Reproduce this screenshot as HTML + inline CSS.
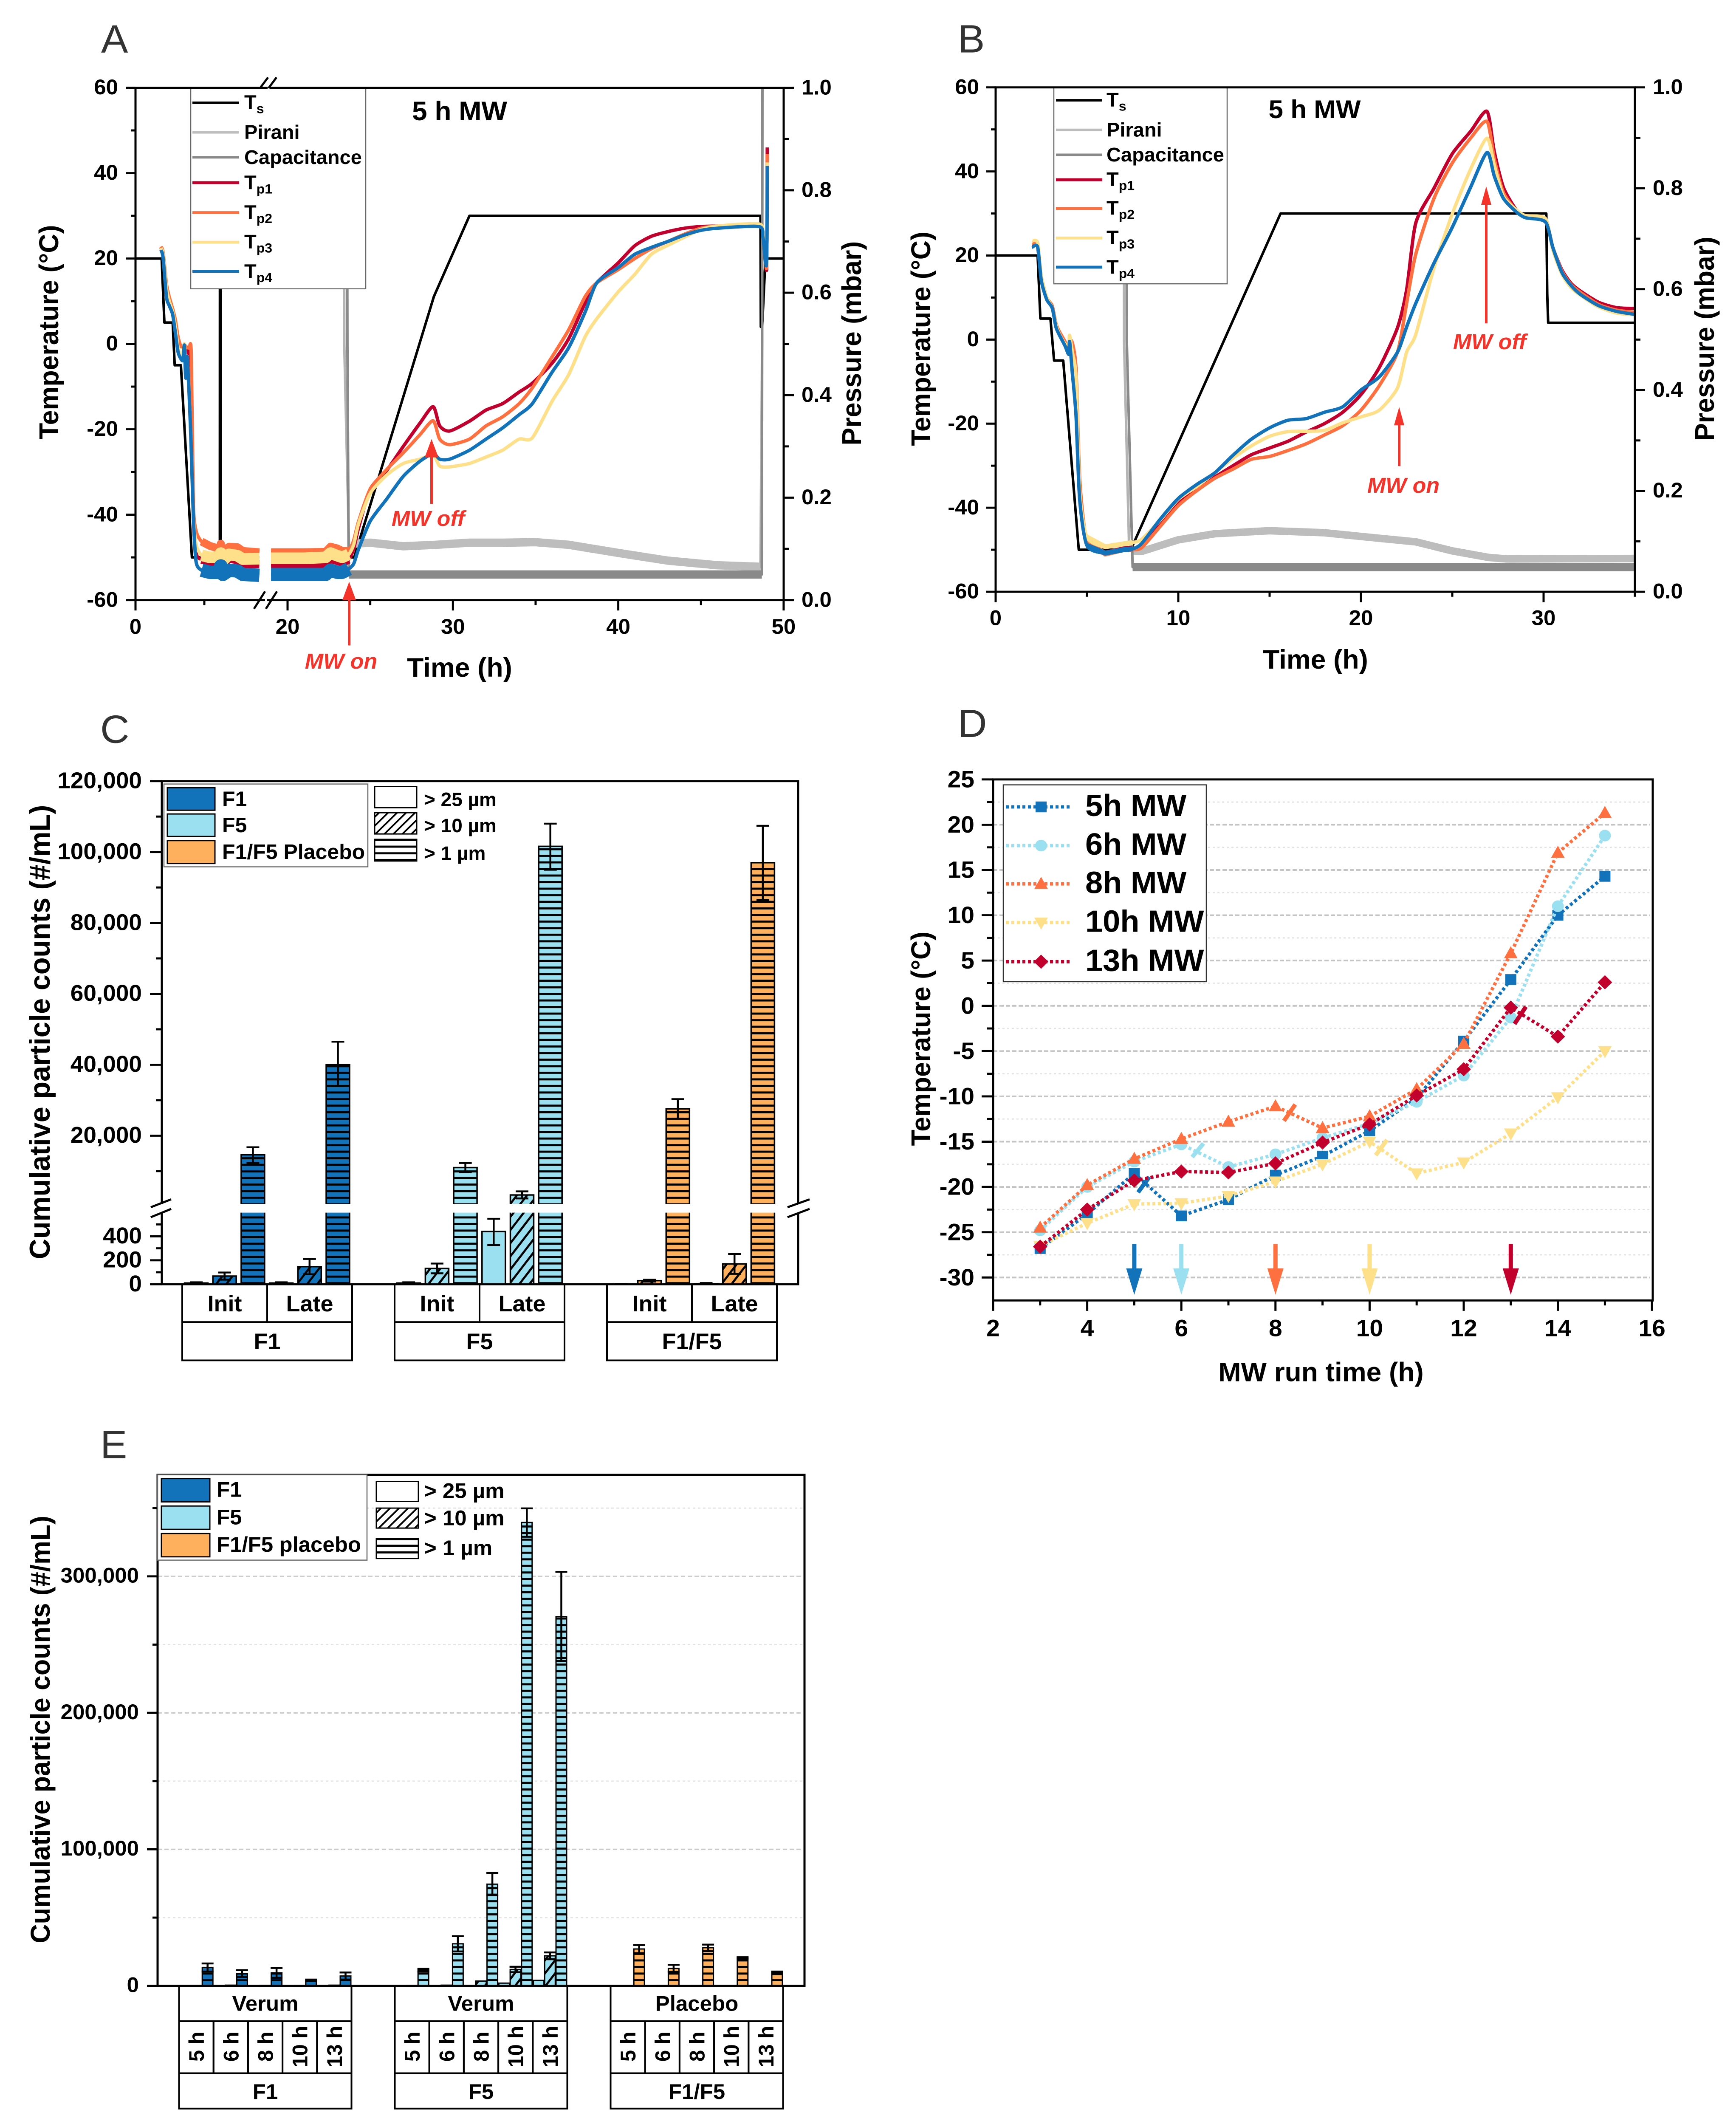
<!DOCTYPE html>
<html lang="en">
<head>
<meta charset="utf-8">
<title>Freeze-drying temperature and particle count charts</title>
<style>
html,body{margin:0;padding:0;background:#fff;width:100%;height:100%;overflow:hidden;}
svg{display:block;width:100vw;height:100vh;font-family:"Liberation Sans",sans-serif;}
.b{font-weight:bold;}
.t{font-weight:bold;font-size:64px;}
.leg{font-weight:bold;font-size:47px;}
.ann{font-weight:bold;font-style:italic;font-size:52px;fill:#f4342a;}
.let{font-size:95px;fill:#333;}
</style>
</head>
<body>
<svg id="fig" xmlns="http://www.w3.org/2000/svg" viewBox="0 0 4087 5104" preserveAspectRatio="none">
<defs>
<clipPath id="clipA"><rect x="319" y="211" width="1526" height="1231"/></clipPath>
<clipPath id="clipB"><rect x="2344" y="210" width="1505" height="1212"/></clipPath>
<pattern id="hF1" patternUnits="userSpaceOnUse" width="16" height="15.8"><rect width="16" height="15.8" fill="#1273ba"/><rect width="16" height="5" fill="#000"/></pattern>
<pattern id="hF5" patternUnits="userSpaceOnUse" width="16" height="15.8"><rect width="16" height="15.8" fill="#9be0f0"/><rect width="16" height="5" fill="#000"/></pattern>
<pattern id="hPl" patternUnits="userSpaceOnUse" width="16" height="15.8"><rect width="16" height="15.8" fill="#ffb05c"/><rect width="16" height="5" fill="#000"/></pattern>
<pattern id="dF1" patternUnits="userSpaceOnUse" width="19" height="19" patternTransform="rotate(37)"><rect width="19" height="19" fill="#1273ba"/><rect width="5" height="19" fill="#000"/></pattern>
<pattern id="dF5" patternUnits="userSpaceOnUse" width="19" height="19" patternTransform="rotate(37)"><rect width="19" height="19" fill="#9be0f0"/><rect width="5" height="19" fill="#000"/></pattern>
<pattern id="dPl" patternUnits="userSpaceOnUse" width="19" height="19" patternTransform="rotate(37)"><rect width="19" height="19" fill="#ffb05c"/><rect width="5" height="19" fill="#000"/></pattern>
<pattern id="dW" patternUnits="userSpaceOnUse" width="15" height="15" patternTransform="rotate(45)"><rect width="15" height="15" fill="#fff"/><rect width="4" height="15" fill="#000"/></pattern>
<pattern id="hW" patternUnits="userSpaceOnUse" width="16" height="16"><rect width="16" height="16" fill="#fff"/><rect width="16" height="5" fill="#000"/></pattern>
</defs>

<!-- PANEL A -->
<g id="panelA">
<text class="let" x="238" y="126">A</text>
<g id="aMarks" clip-path="url(#clipA)"></g>
<rect x="449" y="213" width="412" height="481" fill="#fff" stroke="#666" stroke-width="2.5"/>
<g>
<line x1="453" x2="563" y1="247" y2="247" stroke="#000" stroke-width="6"/>
<text class="leg" x="575" y="262">T<tspan font-size="32" dy="10">s</tspan></text>
<line x1="453" x2="563" y1="318" y2="318" stroke="#bdbdbd" stroke-width="6"/>
<text class="leg" x="575" y="334">Pirani</text>
<line x1="453" x2="563" y1="378" y2="378" stroke="#8a8a8a" stroke-width="6"/>
<text class="leg" x="575" y="394">Capacitance</text>
<line x1="453" x2="563" y1="439" y2="439" stroke="#c1002e" stroke-width="7"/>
<text class="leg" x="575" y="455">T<tspan font-size="32" dy="10">p1</tspan></text>
<line x1="453" x2="563" y1="511" y2="511" stroke="#ff7040" stroke-width="7"/>
<text class="leg" x="575" y="526">T<tspan font-size="32" dy="10">p2</tspan></text>
<line x1="453" x2="563" y1="582" y2="582" stroke="#ffe08a" stroke-width="7"/>
<text class="leg" x="575" y="597">T<tspan font-size="32" dy="10">p3</tspan></text>
<line x1="453" x2="563" y1="652" y2="652" stroke="#1273ba" stroke-width="7"/>
<text class="leg" x="575" y="668">T<tspan font-size="32" dy="10">p4</tspan></text>
</g>
<rect x="319" y="211" width="1526" height="1231" fill="none" stroke="#000" stroke-width="5"/>
<g id="aAxes"></g>
<g stroke="#000" stroke-width="5" fill="none">
<rect x="624" y="1434" width="4" height="14" fill="#fff" stroke="none"/>
<rect x="630" y="204" width="6" height="14" fill="#fff" stroke="none"/>
<line x1="598" y1="1463" x2="624" y2="1421"/><line x1="626" y1="1463" x2="652" y2="1421"/>
<line x1="612" y1="212" x2="631" y2="186"/><line x1="632" y1="212" x2="651" y2="186"/>
</g>
<text class="b" font-size="64" x="1082" y="289" text-anchor="middle">5 h MW</text>
<text class="t" x="1082" y="1626" text-anchor="middle">Time (h)</text>
<text class="t" transform="translate(137 798) rotate(-90)" text-anchor="middle">Temperature (°C)</text>
<text class="t" transform="translate(2027 825) rotate(-90)" text-anchor="middle">Pressure (mbar)</text>
<g><line x1="822" x2="822" y1="1551" y2="1430" stroke="#f4342a" stroke-width="6"/><polygon points="822,1398 806,1442 838,1442" fill="#f4342a"/></g>
<text class="ann" x="803" y="1607" text-anchor="middle">MW on</text>
<g><line x1="1016" x2="1016" y1="1211" y2="1090" stroke="#f4342a" stroke-width="6"/><polygon points="1016,1055 1000,1099 1032,1099" fill="#f4342a"/></g>
<text class="ann" x="1008" y="1264" text-anchor="middle">MW off</text>
</g>

<!-- PANEL B -->
<g id="panelB">
<text class="let" x="2255" y="126">B</text>
<g id="bMarks" clip-path="url(#clipB)"></g>
<rect x="2481" y="211" width="408" height="471" fill="#fff" stroke="#666" stroke-width="2.5"/>
<g>
<line x1="2486" x2="2595" y1="241" y2="241" stroke="#000" stroke-width="6"/>
<text class="leg" x="2605" y="256">T<tspan font-size="32" dy="10">s</tspan></text>
<line x1="2486" x2="2595" y1="312" y2="312" stroke="#bdbdbd" stroke-width="6"/>
<text class="leg" x="2605" y="328">Pirani</text>
<line x1="2486" x2="2595" y1="372" y2="372" stroke="#8a8a8a" stroke-width="6"/>
<text class="leg" x="2605" y="388">Capacitance</text>
<line x1="2486" x2="2595" y1="432" y2="432" stroke="#c1002e" stroke-width="7"/>
<text class="leg" x="2605" y="447">T<tspan font-size="32" dy="10">p1</tspan></text>
<line x1="2486" x2="2595" y1="501" y2="501" stroke="#ff7040" stroke-width="7"/>
<text class="leg" x="2605" y="516">T<tspan font-size="32" dy="10">p2</tspan></text>
<line x1="2486" x2="2595" y1="572" y2="572" stroke="#ffe08a" stroke-width="7"/>
<text class="leg" x="2605" y="587">T<tspan font-size="32" dy="10">p3</tspan></text>
<line x1="2486" x2="2595" y1="642" y2="642" stroke="#1273ba" stroke-width="7"/>
<text class="leg" x="2605" y="658">T<tspan font-size="32" dy="10">p4</tspan></text>
</g>
<rect x="2344" y="210" width="1505" height="1212" fill="none" stroke="#000" stroke-width="5"/>
<g id="bAxes"></g>
<text class="b" font-size="62" x="3095" y="284" text-anchor="middle">5 h MW</text>
<text class="t" x="3097" y="1607" text-anchor="middle">Time (h)</text>
<text class="t" transform="translate(2190 814) rotate(-90)" text-anchor="middle">Temperature (°C)</text>
<text class="t" transform="translate(4035 814) rotate(-90)" text-anchor="middle">Pressure (mbar)</text>
<g><line x1="3294" x2="3294" y1="1120" y2="1010" stroke="#f4342a" stroke-width="6"/><polygon points="3294,978 3282,1022 3306,1022" fill="#f4342a"/></g>
<text class="ann" x="3304" y="1184" text-anchor="middle">MW on</text>
<g><line x1="3499" x2="3499" y1="777" y2="480" stroke="#f4342a" stroke-width="6"/><polygon points="3499,448 3487,492 3511,492" fill="#f4342a"/></g>
<text class="ann" x="3507" y="839" text-anchor="middle">MW off</text>
</g>

<!-- PANEL C -->
<g id="panelC">
<text class="let" x="236" y="1785">C</text>
<g id="cMarks"></g>
<rect x="381" y="1877" width="1498" height="1209" fill="none" stroke="#000" stroke-width="5"/>
<rect x="340" y="2893" width="1580" height="21" fill="#fff"/>
<g stroke="#000" stroke-width="5">
<line x1="355" y1="2901" x2="403" y2="2882"/><line x1="355" y1="2925" x2="403" y2="2905"/>
<line x1="1854" y1="2901" x2="1906" y2="2882"/><line x1="1854" y1="2925" x2="1906" y2="2905"/>
</g>
<g id="cAxes"></g>
<text class="b" font-size="68" transform="translate(117 2480) rotate(-90)" text-anchor="middle">Cumulative particle counts (#/mL)</text>
<g>
<rect x="386" y="1884" width="480" height="199" fill="#fff" stroke="#666" stroke-width="2.5"/>
<rect x="394" y="1893" width="112" height="54" fill="#1273ba" stroke="#000" stroke-width="3"/>
<rect x="394" y="1956" width="112" height="54" fill="#9be0f0" stroke="#000" stroke-width="3"/>
<rect x="394" y="2020" width="112" height="55" fill="#ffb05c" stroke="#000" stroke-width="3"/>
<text class="b" font-size="50" x="523" y="1937">F1</text>
<text class="b" font-size="50" x="523" y="2000">F5</text>
<text class="b" font-size="50" x="523" y="2064">F1/F5 Placebo</text>
<rect x="882" y="1890" width="99" height="51" fill="#fff" stroke="#000" stroke-width="3"/>
<rect x="882" y="1953" width="99" height="51" fill="url(#dW)" stroke="#000" stroke-width="3"/>
<rect x="882" y="2017" width="99" height="52" fill="url(#hW)" stroke="#000" stroke-width="3"/>
<text class="b" font-size="46" x="998" y="1937">&gt; 25 µm</text>
<text class="b" font-size="46" x="998" y="2000">&gt; 10 µm</text>
<text class="b" font-size="46" x="998" y="2066">&gt; 1 µm</text>
</g>
</g>

<!-- PANEL D -->
<g id="panelD">
<text class="let" x="2255" y="1771">D</text>
<g id="dGrid"></g>
<g id="dMarks"></g>
<rect x="2338" y="1873" width="1553" height="1252" fill="none" stroke="#000" stroke-width="5"/>
<g id="dAxes"></g>
<rect x="2362" y="1886" width="478" height="473" fill="#fff" stroke="#333" stroke-width="2.5"/>
<g id="dLegend"></g>
<text class="b" font-size="64" x="3110" y="3319" text-anchor="middle">MW run time (h)</text>
<text class="b" font-size="64" transform="translate(2190 2496) rotate(-90)" text-anchor="middle">Temperature (°C)</text>
</g>

<!-- PANEL E -->
<g id="panelE">
<text class="let" x="236" y="3504">E</text>
<g id="eGrid"></g>
<g id="eMarks"></g>
<rect x="371" y="3544" width="1523" height="1228" fill="none" stroke="#000" stroke-width="5"/>
<g id="eAxes"></g>
<text class="b" font-size="64" transform="translate(117 4156) rotate(-90)" text-anchor="middle">Cumulative particle counts (#/mL)</text>
<g>
<rect x="371" y="3544" width="493" height="205" fill="#fff" stroke="#666" stroke-width="2.5"/>
<rect x="380" y="3553" width="114" height="56" fill="#1273ba" stroke="#000" stroke-width="3"/>
<rect x="380" y="3619" width="114" height="56" fill="#9be0f0" stroke="#000" stroke-width="3"/>
<rect x="380" y="3685" width="114" height="56" fill="#ffb05c" stroke="#000" stroke-width="3"/>
<text class="b" font-size="51" x="510" y="3597">F1</text>
<text class="b" font-size="51" x="510" y="3663">F5</text>
<text class="b" font-size="51" x="510" y="3729">F1/F5 placebo</text>
<rect x="886" y="3560" width="99" height="48" fill="#fff" stroke="#000" stroke-width="3"/>
<rect x="886" y="3624" width="99" height="48" fill="url(#dW)" stroke="#000" stroke-width="3"/>
<rect x="886" y="3697" width="99" height="48" fill="url(#hW)" stroke="#000" stroke-width="3"/>
<text class="b" font-size="51" x="998" y="3600">&gt; 25 µm</text>
<text class="b" font-size="51" x="998" y="3665">&gt; 10 µm</text>
<text class="b" font-size="51" x="998" y="3737">&gt; 1 µm</text>
</g>
</g>
</svg>

<script>
// ---------- Panel A data ----------
const aTime=[1.85,2.0,2.25,2.45,2.7,2.9,3.1,3.3,3.45,3.55,3.65,3.75,3.9,4.05,4.2,4.4,4.8,5.4,6.1,6.2,6.35,6.8,7.4,7.8,9.0,null,19.0,21,22.3,22.6,23.0,23.3,23.7,24.0,24.3,25,26,27,28,28.8,29.2,29.8,31,32,33,34,34.8,36,37,38,38.7,40,41,42,43,44,45,46,48.5,48.75,48.9,48.97,49.0,49.01];
const aTp1=[22.5,20.5,11.5,9.5,7,3,-1.5,-3,-3,-1,-6,-1.5,-2,-10,-40,-49,-50.5,-51,-51,-49.5,-51.5,-50.3,-50.6,-51.5,-51.6,null,-51.6,-51.6,-51.5,-50.3,-50.8,-51.2,-50.5,-48,-43,-34,-29.6,-24,-18.6,-14.7,-19.2,-20.4,-18.1,-15.5,-14,-11.3,-9.2,-4.5,1.2,9.6,14.3,19,23,25.2,26.3,27.1,27.5,27.6,27.8,25,20,17.5,30,46];
const aTp2=[22.8,21.5,14,11,8.2,5.5,1.5,-0.6,-0.5,-0.4,-0.5,-0.9,-1,-2.2,-37,-43.8,-46.3,-47.3,-48,-46.8,-48.5,-47.5,-47.6,-48.5,-48.8,null,-48.8,-48.8,-48.7,-47.5,-47.9,-48.5,-48.5,-46,-41.5,-34,-29.4,-25.5,-21.3,-18,-22.3,-23.6,-22.3,-19.2,-17.1,-14,-10.3,-3,3.3,11.1,14.3,17.4,20,22.3,24,25.7,27.1,27.6,27.8,25,20,18,30,44.5];
const aTp3=[22.5,21,13,10,7.5,4,-1,-3,-2,0,-5,-3,-12,-25,-40,-47,-49.5,-50,-50,-49,-50.7,-49.3,-49.6,-50.4,-50.3,null,-50.2,-50.2,-50,-49,-49.6,-50,-49.3,-47,-42,-35,-30.7,-28,-27,-26,-28.6,-28.8,-28,-26.5,-24.9,-22.3,-22,-13.4,-7.2,1.7,5.9,12.2,16.3,21,23.1,25,26.8,27.6,28.1,25.5,20,19,30,42.5];
const aTp4=[22,20.3,11,9,6.9,2.5,-2,-3.5,-3.8,-0.3,-8,-3,-12,-24.4,-40,-51,-53,-53.5,-53.5,-52,-54,-53,-53.2,-54,-54.2,null,-54,-54,-54,-53,-53.5,-53.5,-52.7,-51.5,-48,-41.5,-36.3,-31,-27.5,-25.7,-27,-27,-24.9,-22.3,-19.7,-16.6,-14,-6.6,-0.9,7.5,14.3,17.9,21,22.6,24,25.5,26.6,27.1,27.5,25,19.2,19,30,41.7];
const aTsTime=[0,1.9,2.1,2.7,2.85,3.3,4.1,6.13,6.14,6.17,6.18,9.0,null,19,24.03,25.35,28.85,31,48.6,48.62,48.7,48.9,50];
const aTsTemp=[20,20,5,5,-5,-5,-50,-50,70,70,-50,-50,null,-50,-50,-33.3,11.1,30,30,4,4,20,20];
const aPiraniTime=[23.4,23.43,23.72,24,25,27,29,31,33,35,37,40,43,46,48.6,48.7,48.72];
const aPiraniValue=[1.2,0.5,0.1,0.11,0.112,0.105,0.108,0.112,0.112,0.113,0.108,0.092,0.077,0.068,0.065,0.5,1.2];
const aCapTime=[23.58,23.62,23.7,48.68,48.7,48.72];
const aCapValue=[1.2,0.5,0.05,0.05,0.5,1.2];
const aXMajor=[0,20,30,40,50];
const aXMinor=[5,25,35,45];
// ---------- Panel B data ----------
const bTime=[2.0,2.3,2.5,2.8,3.1,3.3,3.5,3.8,4.0,4.05,4.2,4.4,4.6,5,6,7,7.5,8,9,10,11,12,13,14,15,16,17,18,19,20,21,22,22.5,23,24,25,26,26.9,27.3,27.8,28.5,29,30.1,30.5,31,31.5,32,33,34,35];
const bTp1=[22.5,22,14.5,9.7,7.6,3.3,1.4,-1,-3,-0.4,-1,-10,-35,-48.5,-50.8,-49.8,-49.7,-49,-44,-39,-35.2,-32.7,-30,-27.4,-25.8,-24.2,-22,-20,-17.3,-13.1,-6.7,2.8,11.8,27.7,36,44.2,49.5,54.3,44.7,36.2,30.9,29.3,28.3,22,16.6,13.4,11.6,8.9,7.6,7.4];
const bTp2=[22.8,22.5,15,10,8,3.8,1.8,-0.5,-2.5,-0.3,-0.8,-7,-33,-48,-51,-50,-50,-49.5,-44.5,-39.5,-36,-33,-30.8,-28.5,-27.8,-26.4,-24.8,-22.7,-20.5,-16.8,-11,-3,8.6,20.3,33.6,42,47.9,51.9,43,35,30.7,29.1,28,22,16.3,13.1,11.3,8.4,7,6.5];
const bTp3=[23.5,23,15,10,7.5,3.5,1.2,-1,-1,1,-3,-9,-36,-47,-49.3,-48.6,-48.3,-47.5,-43,-38,-35,-31.7,-28.2,-25.3,-23,-21.9,-21.8,-21.6,-19.8,-18.4,-16.8,-11.5,-3,1.2,17.1,29.9,40.5,47.9,41.5,34.1,30.9,29.5,28.8,21.5,15.6,12.4,10.6,7.8,6.3,5.9];
const bTp4=[22,22,14,9.5,7.5,3,1,-1.5,-3.5,-0.5,-8,-18,-38,-49,-50.8,-50,-49.8,-48.5,-42.8,-37.8,-34.5,-31.7,-27.5,-23.7,-21,-19.2,-18.8,-17.3,-16,-12,-8.9,-3,3,8.6,18.2,26.7,36.2,44.5,38.9,33.6,30.4,29,28,22,16,12.9,10.8,8.1,6.7,6];
const bTsTime=[0,2.3,2.45,3.0,3.2,3.7,4.55,7.4,15.6,30.15,30.2,30.25,35];
const bTsTemp=[20,20,5,5,-5,-5,-50,-50,30,30,10.8,4,4];
const bPiraniTime=[7.0,7.03,7.3,7.5,8,10,12,15,18,21,23,25,27,28,35];
const bPiraniValue=[1.2,0.5,0.1,0.08,0.08,0.103,0.115,0.121,0.117,0.106,0.099,0.081,0.068,0.065,0.066];
const bCapTime=[7.15,7.18,7.5,35];
const bCapValue=[1.2,0.5,0.049,0.049];
const bXMajor=[0,10,20,30];
const bXMinor=[5,15,25,35];
// ---------- shared for A/B ----------
const tempMajor=[-60,-40,-20,0,20,40,60];
const tempMinor=[-50,-30,-10,10,30,50];
const pressMajor=[0,0.2,0.4,0.6,0.8,1.0];
const pressMinor=[0.1,0.3,0.5,0.7,0.9];
const tpColors=['#c1002e','#ff7040','#ffe08a','#1273ba'];
// ---------- Panel C data ----------
const cGroups=['F1','F5','F1/F5'];
const cStages=['Init','Late'];
const c25=[10,10,10,441,2,5];
const c25Hi=[16,16,16,547,3,10];
const c25Lo=[4,4,4,328,1,1];
const c10=[68,147,132,3270,30,170];
const c10Hi=[98,211,173,4280,38,253];
const c10Lo=[38,83,91,2300,22,87];
const c1=[14600,40000,11000,101600,27550,97000];
const c1Hi=[16730,46500,12300,108000,30300,107400];
const c1Lo=[12330,34000,9700,95000,24800,86500];
const cMajor=[0,200,400,20000,40000,60000,80000,100000,120000];
const cMajorLabels=['0','200','400','20,000','40,000','60,000','80,000','100,000','120,000'];
const cMinor=[100,300,500,10000,30000,50000,70000,90000,110000];
// ---------- Panel D data ----------
const dRunTime=[3,4,5,6,7,8,9,10,11,12,13,14,15];
const d5h=[-26.8,-23,-18.5,-23.2,-21.4,-18.7,-16.6,-13.8,-10.2,-3.9,2.9,10,14.3];
const d6h=[-24.8,-20,-17.2,-15.3,-17.8,-16.4,-14.6,-13,-10.6,-7.7,-1.3,11,18.8];
const d8h=[-24.5,-19.8,-16.9,-14.7,-12.8,-11.1,-13.5,-12.2,-9.2,-4.2,5.8,16.9,21.3];
const d10h=[-26.5,-24,-21.9,-21.8,-21,-19.4,-17.5,-15,-18.5,-17.3,-14.1,-10.1,-5];
const d13h=[-26.6,-22.5,-19.3,-18.3,-18.4,-17.4,-15.1,-13.1,-9.9,-7,-0.2,-3.4,2.6];
const dLabels=['5h MW','6h MW','8h MW','10h MW','13h MW'];
const dMwOff=[5,6,8,10,13];
const dBreakX=[5.2,6.35,8.3,10.25,13.2];
const dBreakTop=[-18.9,-15.2,-10.9,-14.8,-0.1];
const dBreakBottom=[-20.6,-16.7,-12.7,-16.5,-2];
const dXTicks=[2,4,6,8,10,12,14,16];
const dXMinor=[3,5,7,9,11,13,15];
const dYTicks=[-30,-25,-20,-15,-10,-5,0,5,10,15,20,25];
const dYMinor=[-27.5,-22.5,-17.5,-12.5,-7.5,-2.5,2.5,7.5,12.5,17.5,22.5];
const dColors=['#1273ba','#9be0f0','#ff7040','#ffe08a','#c1002e'];
// ---------- Panel E data ----------
const eGroups=['F1','F5','F1/F5'];
const eBatches=['Verum','Verum','Placebo'];
const eHours=['5 h','6 h','8 h','10 h','13 h'];
const e25=[100,200,100,100,300, 100,100,300,2000,4000, 50,100,100,50,100];
const e10=[300,500,400,300,500, 300,500,3500,12000,22000, 200,300,300,200,300];
const e10Hi=[null,null,null,null,null, null,null,null,14000,24500, null,null,null,null,null];
const e1=[13500,9000,9500,4000,7200, 11500,30800,74500,339500,270500, 27000,12800,28000,20400,9500];
const e1Hi=[16400,11500,13100,4600,9800, 12500,36400,82700,349800,303300, 29900,15400,30200,21000,10500];
const e1Lo=[10500,6500,5900,3400,4600, 10500,25200,66300,329000,238000, 24000,10200,25500,19800,8500];
const eMajor=[0,100000,200000,300000];
const eMajorLabels=['0','100,000','200,000','300,000'];
const eMinor=[50000,150000,250000,350000];

// ---------- helpers ----------
const NS='http://www.w3.org/2000/svg';
function make(tag,attrs,parent){
  const n=document.createElementNS(NS,tag);
  for(const k in attrs){n.setAttribute(k,attrs[k]);}
  parent.appendChild(n);
  return n;
}
function g(id){return document.getElementById(id);}
function pathOf(xs,ys,fx,fy){
  let d='',pen=false;
  for(let i=0;i<xs.length;i++){
    if(xs[i]===null||ys[i]===null){pen=false;continue;}
    d+=(pen?'L':'M')+fx(xs[i]).toFixed(1)+' '+fy(ys[i]).toFixed(1);
    pen=true;
  }
  return d;
}
function smoothPath(xs,ys,fx,fy){
  let d='';
  let run=[];
  function flush(){
    if(run.length<2){run=[];return;}
    d+='M'+run[0][0].toFixed(1)+' '+run[0][1].toFixed(1);
    for(let i=0;i<run.length-1;i++){
      const p0=run[Math.max(0,i-1)],p1=run[i],p2=run[i+1],p3=run[Math.min(run.length-1,i+2)];
      const f=0.12;
      d+='C'+(p1[0]+(p2[0]-p0[0])*f).toFixed(1)+' '+(p1[1]+(p2[1]-p0[1])*f).toFixed(1)+' '+(p2[0]-(p3[0]-p1[0])*f).toFixed(1)+' '+(p2[1]-(p3[1]-p1[1])*f).toFixed(1)+' '+p2[0].toFixed(1)+' '+p2[1].toFixed(1);
    }
    run=[];
  }
  for(let i=0;i<xs.length;i++){
    if(xs[i]===null||ys[i]===null){flush();continue;}
    run.push([fx(xs[i]),fy(ys[i])]);
  }
  flush();
  return d;
}
function within(xs,lo,hi){return xs.map(function(v){return (v===null||v<lo||v>hi)?null:v;});}
function drawLine(parent,name,xs,ys,fx,fy,color,width){
  const p=make('path',{d:pathOf(xs,ys,fx,fy),fill:'none',stroke:color,'stroke-width':width,'stroke-linejoin':'round'},parent);
  
  
  return p;
}
function tick(parent,x1,y1,x2,y2,w){
  const l=make('line',{x1:x1,y1:y1,x2:x2,y2:y2,stroke:'#000','stroke-width':w},parent);
  
  
}
function tickText(parent,x,y,str,anchor,size){
  const t=make('text',{x:x,y:y,'text-anchor':anchor,'font-size':size,'font-weight':'bold'},parent);
  t.textContent=str;
  
  
}
function errorBar(parent,x,yHi,yLo,capW,w){
  const e=make('path',{d:'M'+x+' '+yHi+'V'+yLo+'M'+(x-capW/2)+' '+yHi+'H'+(x+capW/2)+'M'+(x-capW/2)+' '+yLo+'H'+(x+capW/2),fill:'none',stroke:'#000','stroke-width':w},parent);
  
  
}
function catBox(parent,x,y,w,h,name){
  const r=make('rect',{x:x,y:y,width:w,height:h,fill:'none',stroke:'#000','stroke-width':4},parent);
  
  
}
function catText(parent,x,y,str,size,name){
  const t=make('text',{x:x,y:y,'text-anchor':'middle','font-size':size,'font-weight':'bold'},parent);
  t.textContent=str;
  
  
  return t;
}

// ---------- axis functions ----------
function xA(t){return t<=9.4?319+32.4*t:677+38.93*(t-20);}
function yA(v){return 1442-(v+60)*10.26;}
function yAp(p){return 1442-p*1231;}
function xB(t){return 2344+43*t;}
function yB(v){return 1422-(v+60)*10.1;}
function yBp(p){return 1422-p*1212;}
function yC(v){return v<=600?3086-v*57.5/200:1877+(120000-v)*170.4/20000;}
function xC(i){return 462+66.7*i+100*Math.floor(i/6);}
function xD(h){return 2338+(h-2)*110.8;}
function yD(v){return 1873+(25-v)*21.76;}
function yE(v){return 4772-v*328/100000;}
function xE(i,bar){const grp=Math.floor(i/5);const c=i%5;return 462+grp*508+c*81.2+(bar-1)*26.7;}

// ---------- Panel A ----------
(function(){
  const m=g('aMarks');
  drawLine(m,'ts-line',aTsTime,aTsTemp,xA,yA,'#000',6);
  drawLine(m,'pirani-line',aPiraniTime,aPiraniValue,xA,yAp,'#b4b4b4',6);
  drawLine(m,'pirani-noise-band',within(aPiraniTime,23.9,48.6),aPiraniValue,xA,yAp,'#bdbdbd',20);
  drawLine(m,'capacitance-line',aCapTime,aCapValue,xA,yAp,'#8a8a8a',6);
  drawLine(m,'capacitance-noise-band',within(aCapTime,23.7,48.68),aCapValue,xA,yAp,'#8a8a8a',20);
  const tps=[aTp1,aTp2,aTp3,aTp4];
  const bands=[20,19,28,32];
  tps.forEach(function(s,i){
    const line=make('path',{d:smoothPath(aTime,s,xA,yA),fill:'none',stroke:tpColors[i],'stroke-width':8,'stroke-linejoin':'round'},m);
    
    
    const band=make('path',{d:pathOf(within(aTime,4.8,23.7),s,xA,yA),fill:'none',stroke:tpColors[i],'stroke-width':bands[i],'stroke-linejoin':'round'},m);
    
    
  });
  const ax=g('aAxes');
  aXMajor.forEach(function(t){tick(ax,xA(t),1442,xA(t),1467,5);tickText(ax,xA(t),1523,String(t),'middle',51);});
  aXMinor.forEach(function(t){tick(ax,xA(t),1442,xA(t),1454,5);});
  tempMajor.forEach(function(v){tick(ax,297,yA(v),319,yA(v),5);tickText(ax,278,yA(v)+16,String(v),'end',51);});
  tempMinor.forEach(function(v){tick(ax,308,yA(v),319,yA(v),5);});
  pressMajor.forEach(function(p){tick(ax,1845,yAp(p),1869,yAp(p),5);tickText(ax,1887,yAp(p)+16,p.toFixed(1),'start',51);});
  pressMinor.forEach(function(p){tick(ax,1845,yAp(p),1858,yAp(p),5);});
})();

// ---------- Panel B ----------
(function(){
  const m=g('bMarks');
  drawLine(m,'ts-line',bTsTime,bTsTemp,xB,yB,'#000',6);
  drawLine(m,'pirani-line',bPiraniTime,bPiraniValue,xB,yBp,'#b4b4b4',6);
  drawLine(m,'pirani-noise-band',within(bPiraniTime,7.5,35),bPiraniValue,xB,yBp,'#bdbdbd',18);
  drawLine(m,'capacitance-line',bCapTime,bCapValue,xB,yBp,'#8a8a8a',6);
  drawLine(m,'capacitance-noise-band',within(bCapTime,7.5,35),bCapValue,xB,yBp,'#8a8a8a',20);
  const tps=[bTp1,bTp2,bTp3,bTp4];
  tps.forEach(function(s,i){
    const line=make('path',{d:smoothPath(bTime,s,xB,yB),fill:'none',stroke:tpColors[i],'stroke-width':8,'stroke-linejoin':'round'},m);
    
    
    const band=make('path',{d:pathOf(within(bTime,5,7.5),s,xB,yB),fill:'none',stroke:tpColors[i],'stroke-width':12,'stroke-linejoin':'round'},m);
    
    
  });
  const ax=g('bAxes');
  bXMajor.forEach(function(t){tick(ax,xB(t),1422,xB(t),1447,5);tickText(ax,xB(t),1502,String(t),'middle',51);});
  bXMinor.forEach(function(t){tick(ax,xB(t),1422,xB(t),1434,5);});
  tempMajor.forEach(function(v){tick(ax,2322,yB(v),2344,yB(v),5);tickText(ax,2305,yB(v)+16,String(v),'end',51);});
  tempMinor.forEach(function(v){tick(ax,2333,yB(v),2344,yB(v),5);});
  pressMajor.forEach(function(p){tick(ax,3849,yBp(p),3873,yBp(p),5);tickText(ax,3891,yBp(p)+16,p.toFixed(1),'start',51);});
  pressMinor.forEach(function(p){tick(ax,3849,yBp(p),3862,yBp(p),5);});
})();

// ---------- Panel C ----------
(function(){
  const m=g('cMarks');
  const solid=['#1273ba','#9be0f0','#ffb05c'];
  const diag=['url(#dF1)','url(#dF5)','url(#dPl)'];
  const horiz=['url(#hF1)','url(#hF5)','url(#hPl)'];
  const W=55;
  for(let k=0;k<6;k++){
    const grp=Math.floor(k/2);
    const vals=[c25[k],c10[k],c1[k]];
    const his=[c25Hi[k],c10Hi[k],c1Hi[k]];
    const los=[c25Lo[k],c10Lo[k],c1Lo[k]];
    const fills=[solid[grp],diag[grp],horiz[grp]];
    vals.forEach(function(v,b){
      const x=xC(k*3+b);
      const r=make('rect',{x:x-W/2,y:yC(v),width:W,height:3086-yC(v),fill:fills[b],stroke:'#000','stroke-width':3.5},m);
      
      
      errorBar(m,x,yC(his[b]),yC(los[b]),30,4.5);
    });
  }
  const ax=g('cAxes');
  cMajor.forEach(function(v,i){tick(ax,353,yC(v),381,yC(v),5);tickText(ax,334,yC(v)+17,cMajorLabels[i],'end',55);});
  cMinor.forEach(function(v){tick(ax,367,yC(v),381,yC(v),5);});
  cGroups.forEach(function(name,gi){
    const x0=429+500*gi;
    catBox(ax,x0,3086,200,91,'stage-box');
    catBox(ax,x0+200,3086,200,91,'stage-box');
    catBox(ax,x0,3177,400,92,'group-box');
    cStages.forEach(function(s,si){catText(ax,x0+100+200*si,3151,s,54,'stage-label');});
    catText(ax,x0+200,3242,name,54,'group-label');
  });
})();

// ---------- Panel D ----------
(function(){
  const gr=g('dGrid');
  dYTicks.forEach(function(v){
    const l=make('line',{x1:2338,x2:3884,y1:yD(v),y2:yD(v),stroke:'#c4c4c4','stroke-width':4,'stroke-dasharray':'10 5'},gr);
    
    
  });
  dYMinor.forEach(function(v){
    const l=make('line',{x1:2338,x2:3884,y1:yD(v),y2:yD(v),stroke:'#e2e2e2','stroke-width':3,'stroke-dasharray':'5 6'},gr);
    
    
  });
  function marker(parent,kind,x,y,color){
    let n;
    if(kind===0){n=make('rect',{x:x-13,y:y-13,width:26,height:26,fill:color},parent);}
    else if(kind===1){n=make('circle',{cx:x,cy:y,r:14,fill:color},parent);}
    else if(kind===2){n=make('polygon',{points:[x,y-17,x+16,y+12,x-16,y+12].join(' '),fill:color},parent);}
    else if(kind===3){n=make('polygon',{points:[x,y+17,x+16,y-12,x-16,y-12].join(' '),fill:color},parent);}
    else{n=make('polygon',{points:[x,y-17,x+17,y,x,y+17,x-17,y].join(' '),fill:color},parent);}
    
    
  }
  const m=g('dMarks');
  const series=[d5h,d6h,d8h,d10h,d13h];
  series.forEach(function(s,i){
    const p=make('path',{d:pathOf(dRunTime,s,xD,yD),fill:'none',stroke:dColors[i],'stroke-width':8,'stroke-dasharray':'7 6'},m);
    
    
    dRunTime.forEach(function(t,j){marker(m,i,xD(t),yD(s[j]),dColors[i]);});
    const sl=make('line',{x1:xD(dBreakX[i]+0.12),y1:yD(dBreakTop[i]),x2:xD(dBreakX[i]-0.12),y2:yD(dBreakBottom[i]),stroke:dColors[i],'stroke-width':10},m);
    
    
    const x=xD(dMwOff[i]);
    const a=make('path',{d:'M'+(x-5)+' '+yD(-26.3)+'H'+(x+5)+'V'+yD(-29)+'H'+(x+19)+'L'+x+' '+yD(-31.9)+'L'+(x-19)+' '+yD(-29)+'H'+(x-5)+'Z',fill:dColors[i]},m);
    
    
  });
  const ax=g('dAxes');
  dXTicks.forEach(function(t){tick(ax,xD(t),3125,xD(t),3150,5);tickText(ax,xD(t),3211,String(t),'middle',57);});
  dXMinor.forEach(function(t){tick(ax,xD(t),3125,xD(t),3137,5);});
  dYTicks.forEach(function(v){tick(ax,2311,yD(v),2338,yD(v),5);tickText(ax,2294,yD(v)+19,String(v),'end',57);});
  dYMinor.forEach(function(v){tick(ax,2324,yD(v),2338,yD(v),5);});
  const lg=g('dLegend');
  const baseY=[1961,2054,2146,2239,2333];
  dLabels.forEach(function(lab,i){
    const yy=baseY[i]-22;
    const l=make('line',{x1:2368,x2:2524,y1:yy,y2:yy,stroke:dColors[i],'stroke-width':8,'stroke-dasharray':'7 6'},lg);
    
    
    marker(lg,i,2451,yy,dColors[i]);
    const t=make('text',{x:2555,y:baseY[i],'font-size':74,'font-weight':'bold'},lg);
    t.textContent=lab;
    
    
  });
})();

// ---------- Panel E ----------
(function(){
  const gr=g('eGrid');
  eMajor.slice(1).forEach(function(v){
    const l=make('line',{x1:371,x2:1890,y1:yE(v),y2:yE(v),stroke:'#ccc','stroke-width':3.5,'stroke-dasharray':'10 6'},gr);
    
    
  });
  eMinor.forEach(function(v){
    const l=make('line',{x1:371,x2:1890,y1:yE(v),y2:yE(v),stroke:'#e4e4e4','stroke-width':3,'stroke-dasharray':'6 6'},gr);
    
    
  });
  const m=g('eMarks');
  const solid=['#1273ba','#9be0f0','#ffb05c'];
  const diag=['url(#dF1)','url(#dF5)','url(#dPl)'];
  const horiz=['url(#hF1)','url(#hF5)','url(#hPl)'];
  const W=25;
  e1.forEach(function(v,i){
    const grp=Math.floor(i/5);
    const vals=[e25[i],e10[i],v];
    const fills=[solid[grp],diag[grp],horiz[grp]];
    vals.forEach(function(val,b){
      const x=xE(i,b);
      const r=make('rect',{x:x-W/2,y:yE(val),width:W,height:4772-yE(val),fill:fills[b],stroke:'#000','stroke-width':3},m);
      
      
    });
    errorBar(m,xE(i,2),yE(e1Hi[i]),yE(e1Lo[i]),28,4.5);
    if(e10Hi[i]!==null){errorBar(m,xE(i,1),yE(e10Hi[i]),yE(2*e10[i]-e10Hi[i]),28,4.5);}
  });
  const ax=g('eAxes');
  eMajor.forEach(function(v,i){tick(ax,346,yE(v),371,yE(v),5);tickText(ax,327,yE(v)+15,eMajorLabels[i],'end',51);});
  eMinor.forEach(function(v){tick(ax,359,yE(v),371,yE(v),5);});
  eGroups.forEach(function(name,gi){
    const x0=421.5+508*gi;
    const w=81.2;
    catBox(ax,x0,4772,w*5,85,'batch-box');
    catBox(ax,x0,4982,w*5,85,'group-box');
    catText(ax,x0+w*2.5,4832,eBatches[gi],51,'batch-label');
    catText(ax,x0+w*2.5,5044,name,51,'group-label');
    eHours.forEach(function(h,hi){
      catBox(ax,x0+w*hi,4857,w,125,'hour-box');
      const cx=x0+w*hi+w/2+18;
      const t=catText(ax,0,0,h,50,'hour-label');
      t.setAttribute('transform','translate('+cx+' 4918) rotate(-90)');
    });
  });
})();
</script>
</body>
</html>
